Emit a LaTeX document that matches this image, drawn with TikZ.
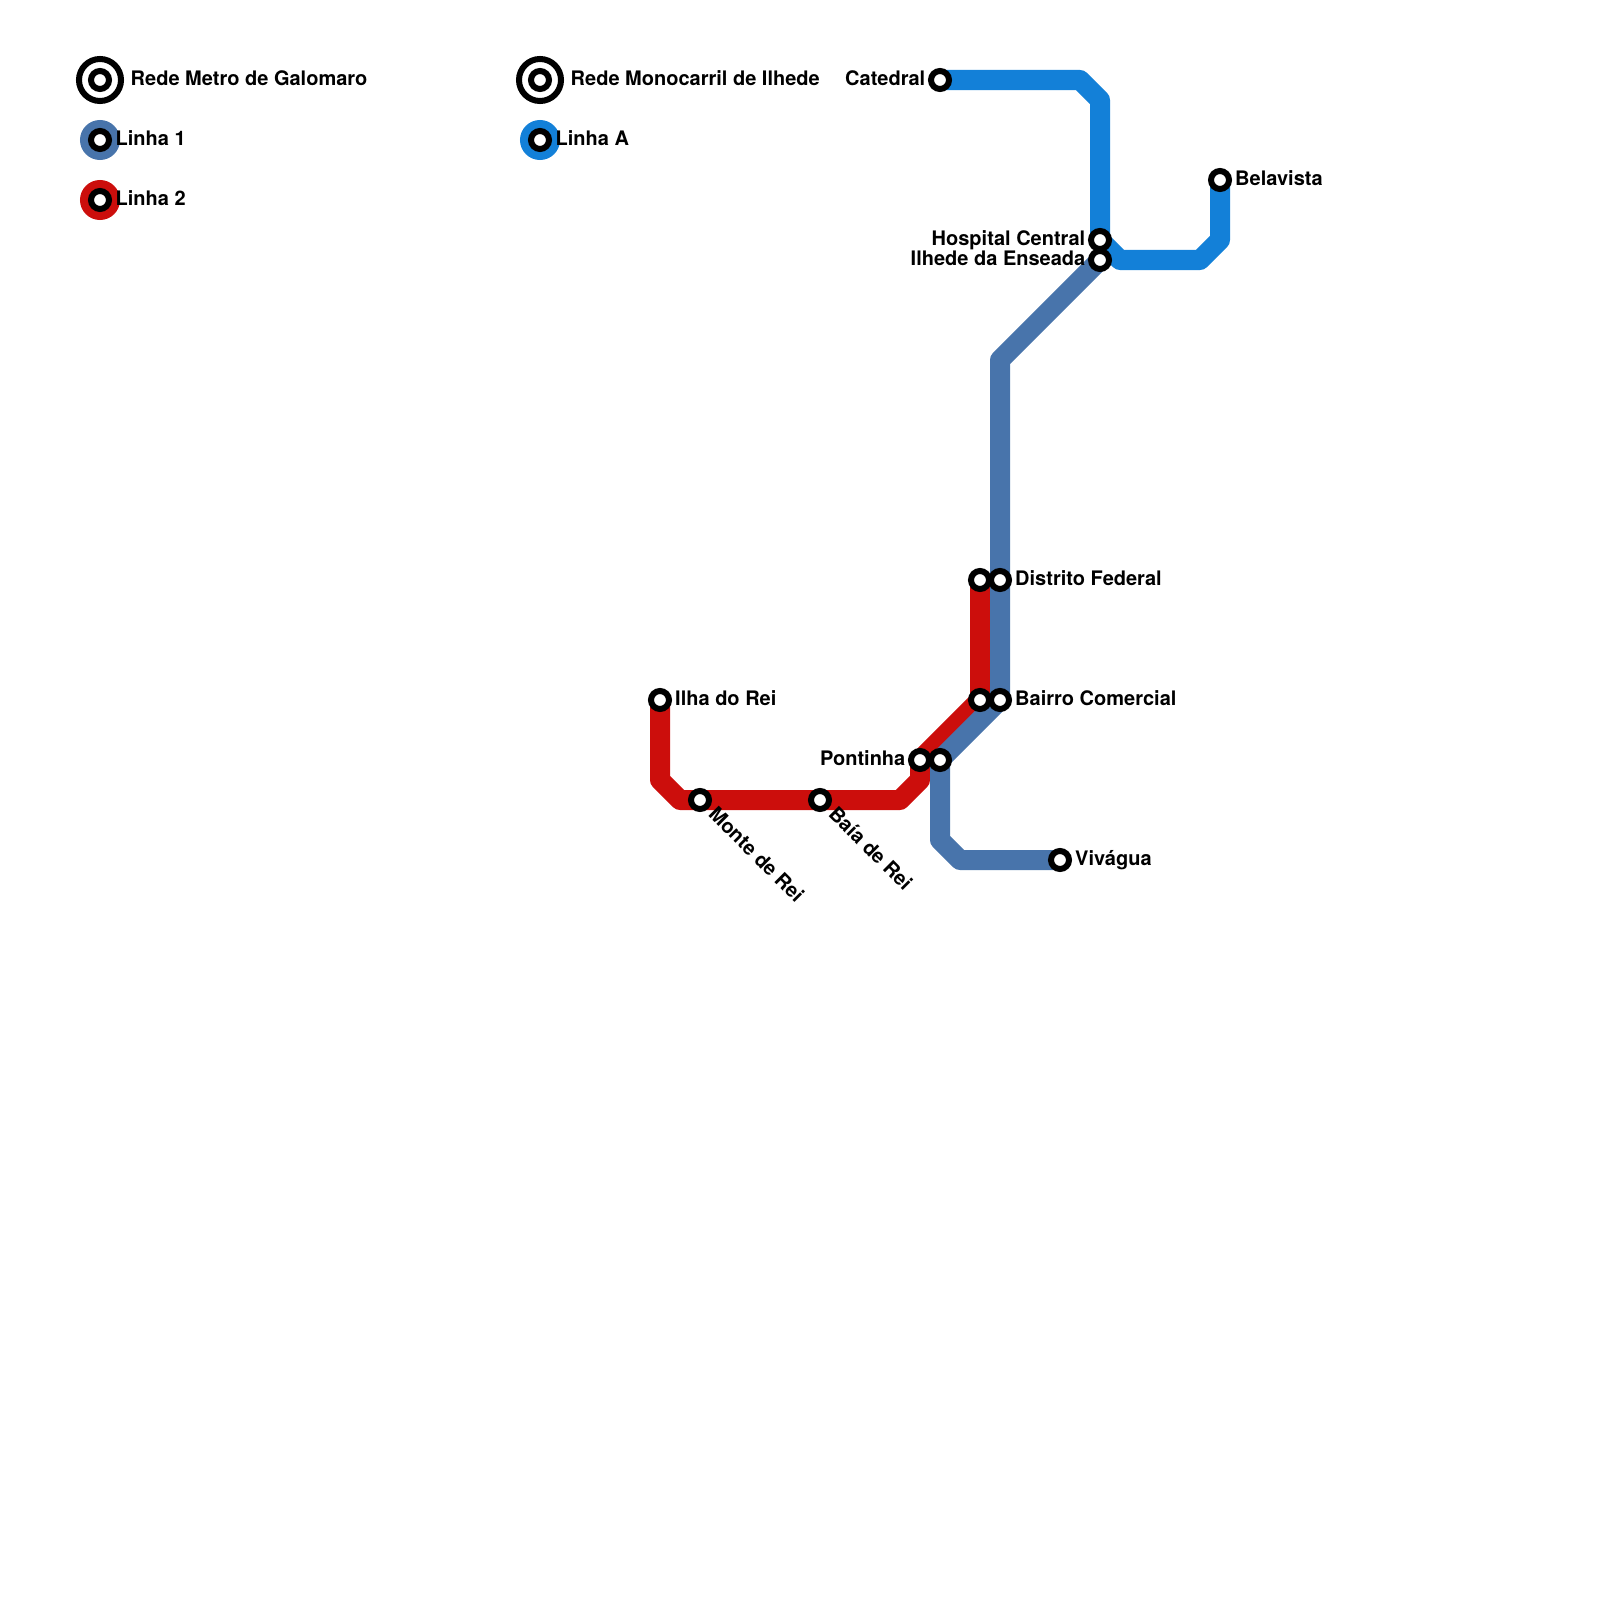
\documentclass[tikz,border=0pt]{standalone}
\usepackage{fontspec}
\setmainfont{TeX Gyre Heros}
\usepackage{xcolor}
\usetikzlibrary{backgrounds}
\definecolor{line1color}{RGB}{72, 116, 171}
\definecolor{line2color}{RGB}{204, 14, 12}
\definecolor{lineAcolor}{RGB}{19, 128, 216}
\begin{document}
\begin{tikzpicture}[
    x=0.01cm, y=-0.01cm,
    font=\fontsize{5.69pt}{6.5pt}\selectfont\bfseries,
    % Station ring
    stn/.style={circle, draw=black, line width=0.6mm, fill=white, minimum size=1.8mm, inner sep=0pt, outer sep=0pt},
    % Outer ring of the legend titles
    ringbig/.style={circle, draw=black, line width=0.6mm, minimum size=4.2mm, inner sep=0pt, outer sep=0pt},
    % Colour disc of the legend
    disc/.style={circle, minimum size=4mm, inner sep=0pt, outer sep=0pt},
    % Route line
    route/.style={line width=2mm, line join=round},
    % Labels
    lblr/.style={anchor=base west, inner sep=0pt},
    lbll/.style={anchor=base east, inner sep=0pt},
    lbld/.style={anchor=base west, inner sep=0pt, rotate=-45}
]
    \useasboundingbox (0,0) rectangle (1600,1600);

    % --- LEGEND ---
    \node[ringbig] (ringMetro) at (100, 80) {};
    \node[ringbig] (ringMono) at (540, 80) {};
    \node[disc, fill=line1color] (discOne) at (100, 140) {};
    \node[disc, fill=line2color] (discTwo) at (100, 200) {};
    \node[disc, fill=lineAcolor] (discA) at (540, 140) {};

    % --- STATIONS ---
    \foreach \name/\x/\y in {
        legMetro/100/80, legMono/540/80, legOne/100/140, legTwo/100/200, legA/540/140,
        ilhaRei/660/700, monteRei/700/800, baiaRei/820/800, pontinhaR/920/760, pontinhaB/940/760,
        bairroR/980/700, bairroB/1000/700, distritoR/980/580, distritoB/1000/580, vivagua/1060/860,
        catedral/940/80, hospital/1100/240, ilhede/1100/260, belavista/1220/180} {
        \node[stn] (\name) at (\x, \y) {};
    }

    % --- BENDS ---
    \foreach \name/\x/\y in {
        r1/660/780, r2/680/800, r3/900/800, r4/920/780,
        b1/1000/360, b2/940/840, b3/960/860,
        a1/1080/80, a2/1100/100, a3/1120/260, a4/1200/260, a5/1220/240} {
        \coordinate (\name) at (\x, \y);
    }

    % --- ROUTES ---
    \begin{scope}[on background layer]
        % Linha 2
        \draw[route, line2color] (ilhaRei.center) -- (r1) -- (r2) -- (monteRei.center) -- (baiaRei.center) -- (r3) -- (r4)
            -- (pontinhaR.center) -- (bairroR.center) -- (distritoR.center);
        % Linha A
        \draw[route, lineAcolor] (catedral.center) -- (a1) -- (a2) -- (hospital.center) -- (a3) -- (a4) -- (a5) -- (belavista.center);
        % Linha 1
        \draw[route, line1color] (ilhede.center) -- (b1) -- (distritoB.center) -- (bairroB.center) -- (pontinhaB.center)
            -- (b2) -- (b3) -- (vivagua.center);
    \end{scope}

    % --- LABELS ---
    \node[lblr] (txtMetro) at (130, 85.5) {Rede Metro de Galomaro};
    \node[lblr] (txtMono) at (570, 85.5) {Rede Monocarril de Ilhede};
    \node[lblr] (txtOne) at (115, 145.5) {Linha 1};
    \node[lblr] (txtTwo) at (115, 205.5) {Linha 2};
    \node[lblr] (txtA) at (555, 145.5) {Linha A};
    \node[lblr] (txtIlha) at (674.5, 705) {Ilha do Rei};
    \node[lblr] (txtDistrito) at (1014.5, 585) {Distrito Federal};
    \node[lblr] (txtBairro) at (1014.5, 705) {Bairro Comercial};
    \node[lblr] (txtVivagua) at (1074.5, 865) {Vivágua};
    \node[lblr] (txtBelavista) at (1234.5, 185.5) {Belavista};
    \node[lbll] (txtPontinha) at (906, 765) {Pontinha};
    \node[lbll] (txtCatedral) at (926, 85.5) {Catedral};
    \node[lbll] (txtHospital) at (1086, 245.5) {Hospital Central};
    \node[lbll] (txtIlhede) at (1086, 265) {Ilhede da Enseada};
    \node[lbld] (txtMonte) at (707, 815) {Monte de Rei};
    \node[lbld] (txtBaia) at (827, 815) {Baía de Rei};
\end{tikzpicture}
\end{document}
